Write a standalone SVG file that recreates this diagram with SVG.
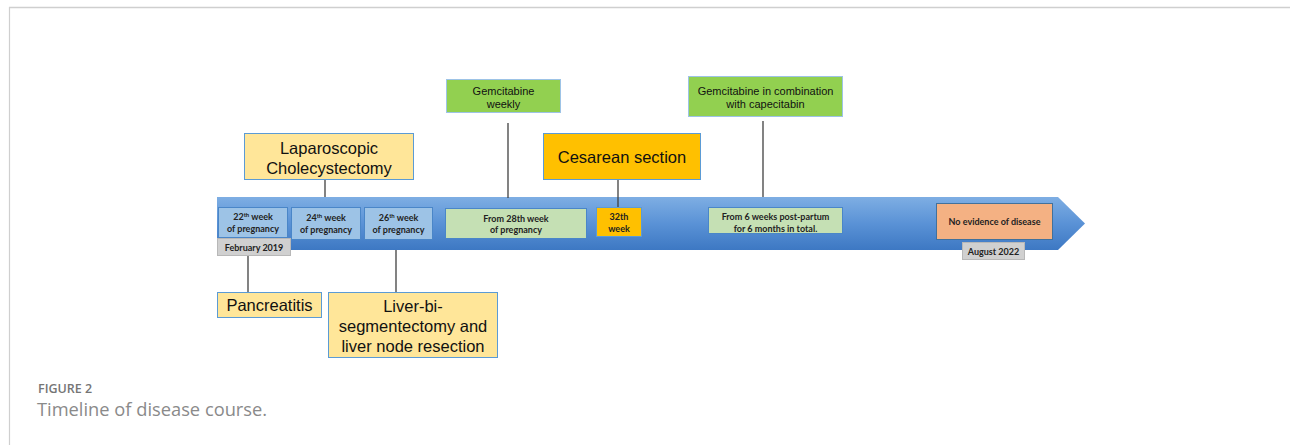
<svg xmlns="http://www.w3.org/2000/svg" width="1290" height="445" viewBox="0 0 1290 445">
<defs>
<linearGradient id="band" x1="0" y1="0" x2="0" y2="1">
<stop offset="0" stop-color="#7eaee3"/>
<stop offset="0.5" stop-color="#5a92d6"/>
<stop offset="1" stop-color="#3d78c3"/>
</linearGradient>
<style>
.big{font-family:"Liberation Sans",Arial,sans-serif;font-size:16.5px;fill:#111;text-anchor:middle}
.med{font-family:"Liberation Sans",Arial,sans-serif;font-size:11px;fill:#111;text-anchor:middle}
.sm{font-family:Lato,"Liberation Sans",sans-serif;font-weight:bold;font-size:9px;fill:#222;text-anchor:middle}
.sup{font-size:6px}
.yel{fill:#ffe699;stroke:#5b9bd5;stroke-width:1}
.grn{fill:#92d050;stroke:#9dc3e6;stroke-width:1}
.org{fill:#ffc000;stroke:#5b9bd5;stroke-width:1}
.lgr{fill:#c5e0b4;stroke:#4a86c8;stroke-width:1}
.blu{fill:#9dc3e6;stroke:#4a86c8;stroke-width:1}
.gry{fill:#d0d0d0;stroke:#b8b8b8;stroke-width:1}
.sal{fill:#f4b183;stroke:#41719c;stroke-width:1}
.conn line{stroke:#404040;stroke-width:1.3}
</style>
</defs>
<rect width="1290" height="445" fill="#fff"/>
<g id="frame">
<line x1="9" y1="7.5" x2="1290" y2="7.5" stroke="#cfcfcf" stroke-width="1.6"/>
<line x1="9.5" y1="7" x2="9.5" y2="445" stroke="#cfcfcf" stroke-width="1.2"/>
</g>
<g id="timeline">
<polygon points="217,197 1058,197 1085,223.5 1058,250 217,250" fill="url(#band)"/>
</g>
<g class="conn" id="connectors">
<line x1="325" y1="180" x2="325" y2="197"/>
<line x1="508" y1="123" x2="508" y2="198"/>
<line x1="618" y1="168" x2="618" y2="207"/>
<line x1="763" y1="121" x2="763" y2="197"/>
<line x1="248" y1="256" x2="248" y2="292"/>
<line x1="396" y1="250" x2="396" y2="292"/>
</g>
<g id="n-lap">
<rect class="yel" x="244.5" y="133.5" width="169" height="46"/>
<text class="big" x="329" y="154">Laparoscopic</text>
<text class="big" x="329" y="174">Cholecystectomy</text>
</g>
<g id="n-gem1">
<rect class="grn" x="446.5" y="79.5" width="114" height="33"/>
<text class="med" x="503.5" y="94.5">Gemcitabine</text>
<text class="med" x="503.5" y="107.5">weekly</text>
</g>
<g id="n-ces">
<rect class="org" x="543.5" y="133.5" width="157" height="46"/>
<text class="big" x="622" y="163">Cesarean section</text>
</g>
<g id="n-gem2">
<rect class="grn" x="688.5" y="76.5" width="154" height="40"/>
<text class="med" x="765.5" y="95">Gemcitabine in combination</text>
<text class="med" x="765.5" y="108">with capecitabin</text>
</g>
<g id="n-w22">
<rect class="blu" x="218.5" y="207.5" width="69" height="30"/>
<text class="sm" x="253" y="220">22<tspan class="sup" dy="-3">th</tspan><tspan dy="3">  week</tspan></text>
<text class="sm" x="253" y="231.5">of pregnancy</text>
</g>
<g id="n-feb">
<rect class="gry" x="217.5" y="238.5" width="73" height="17"/>
<text class="sm" x="254" y="250.5">February 2019</text>
</g>
<g id="n-w24">
<rect class="blu" x="291.5" y="207.5" width="69" height="32"/>
<text class="sm" x="326" y="221">24<tspan class="sup" dy="-3">th</tspan><tspan dy="3"> week</tspan></text>
<text class="sm" x="326" y="233">of pregnancy</text>
</g>
<g id="n-w26">
<rect class="blu" x="364.5" y="207.5" width="68" height="32"/>
<text class="sm" x="398.5" y="221">26<tspan class="sup" dy="-3">th</tspan><tspan dy="3"> week</tspan></text>
<text class="sm" x="398.5" y="233">of pregnancy</text>
</g>
<g id="n-w28">
<rect class="lgr" x="445.5" y="208.5" width="141" height="30"/>
<text class="sm" x="516" y="221.5">From 28th week</text>
<text class="sm" x="516" y="233">of pregnancy</text>
</g>
<g id="n-w32">
<rect class="org" x="596.5" y="207.5" width="45" height="29"/>
<text class="sm" x="619" y="220">32th</text>
<text class="sm" x="619" y="231.5">week</text>
</g>
<g id="n-post">
<rect class="lgr" x="708.5" y="207.5" width="134" height="26"/>
<text class="sm" x="775.5" y="220">From 6 weeks post-partum</text>
<text class="sm" x="775.5" y="231.5">for 6 months in total.</text>
</g>
<g id="n-ned">
<rect class="sal" x="936.5" y="203.5" width="116" height="36"/>
<text class="sm" x="994.5" y="225">No evidence of disease</text>
</g>
<g id="n-aug">
<rect class="gry" x="962.5" y="242.5" width="62" height="17"/>
<text class="sm" x="993.5" y="255">August 2022</text>
</g>
<g id="n-pan">
<rect class="yel" x="217.5" y="292.5" width="104" height="25"/>
<text class="big" x="269.5" y="311">Pancreatitis</text>
</g>
<g id="n-liver">
<rect class="yel" x="328.5" y="292.5" width="169" height="65"/>
<text class="big" x="413" y="312">Liver-bi-</text>
<text class="big" x="413" y="332">segmentectomy and</text>
<text class="big" x="413" y="352">liver node resection</text>
</g>
<g id="caption">
<text x="38" y="393" font-family="'Open Sans','Liberation Sans',sans-serif" font-weight="600" font-size="12.5px" fill="#757575">FIGURE 2</text>
<text x="37" y="416" font-family="'Open Sans','Liberation Sans',sans-serif" font-size="18.3px" fill="#8a8a8a">Timeline of disease course.</text>
</g>
</svg>
